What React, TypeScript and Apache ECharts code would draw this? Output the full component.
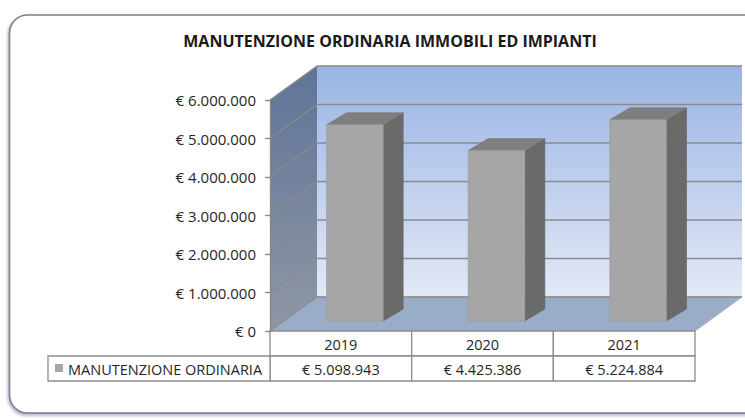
import React, { useEffect, useRef } from "react";
import * as echarts from "echarts";

const chartTitle = "MANUTENZIONE ORDINARIA IMMOBILI ED IMPIANTI";
const seriesName = "MANUTENZIONE ORDINARIA";
const categories = ["2019", "2020", "2021"];
const values = [5098943, 4425386, 5224884];
const yTickValues = [0, 1000000, 2000000, 3000000, 4000000, 5000000, 6000000];
const yMin = 0;
const yMax = 6000000;
const yInterval = 1000000;

const FONT = '"Open Sans", "Noto Sans", sans-serif';
const DEPTH_X = 47;
const DEPTH_Y = -34;
const BAR_OFF_X = 14;
const BAR_OFF_Y = -10;
const BAR_DX = 20;
const BAR_DY = -12;
const ROW_H = 25;
const LEGEND_W = 222;

function formatEuro(v: number): string {
  const s = String(Math.round(v)).replace(/\B(?=(\d{3})+(?!\d))/g, ".");
  return "€ " + s;
}

function textEl(text: string, x: number, y: number, align: string, extra: any = {}) {
  return {
    type: "text",
    style: {
      text,
      x,
      y,
      align,
      verticalAlign: "middle",
      textAlign: align,
      textVerticalAlign: "middle",
      fill: "#262626",
      font: `14.5px ${FONT}`,
      ...extra,
    },
  };
}

export default function App() {
  const ref = useRef<HTMLDivElement | null>(null);

  useEffect(() => {
    document.body.style.margin = "0";
    if (!ref.current) return;
    const chart = echarts.init(ref.current, undefined, { renderer: "svg" });

    const wallsRender = (params: any, api: any) => {
      const cs = params.coordSys;
      const L = cs.x;
      const R = cs.x + cs.width;
      const T = cs.y;
      const B = cs.y + cs.height;
      const children: any[] = [];
      children.push({
        type: "polygon",
        shape: {
          points: [
            [L, B],
            [L, T],
            [L + DEPTH_X, T + DEPTH_Y],
            [L + DEPTH_X, B + DEPTH_Y],
          ],
        },
        style: {
          fill: new echarts.graphic.LinearGradient(0, 0, 0, 1, [
            { offset: 0, color: "#5f7499" },
            { offset: 1, color: "#8f97a3" },
          ]),
          stroke: "none",
        },
      });
      children.push({
        type: "rect",
        shape: {
          x: L + DEPTH_X,
          y: T + DEPTH_Y,
          width: R - L,
          height: B - T,
        },
        style: {
          fill: new echarts.graphic.LinearGradient(0, 0, 0, 1, [
            { offset: 0, color: "#9ab4e4" },
            { offset: 1, color: "#e2e9f6" },
          ]),
          stroke: "none",
        },
      });
      children.push({
        type: "polygon",
        shape: {
          points: [
            [L, B],
            [R, B],
            [R + DEPTH_X, B + DEPTH_Y],
            [L + DEPTH_X, B + DEPTH_Y],
          ],
        },
        style: { fill: "#99adc8", stroke: "#a9b4c4", lineWidth: 1 },
      });
      yTickValues.forEach((v) => {
        const y = api.coord([0, v])[1];
        children.push({
          type: "line",
          shape: { x1: L + DEPTH_X, y1: y + DEPTH_Y, x2: R + DEPTH_X, y2: y + DEPTH_Y },
          style: { stroke: "#8a8a8a", lineWidth: 1.5 },
        });
        children.push({
          type: "line",
          shape: { x1: L, y1: y, x2: L + DEPTH_X, y2: y + DEPTH_Y },
          style: { stroke: "#8a8a8a", lineWidth: 1.2 },
        });
      });
      return { type: "group", children };
    };

    const barsRender = (params: any, api: any) => {
      const i = api.value(0);
      const v = api.value(1);
      const top = api.coord([i, v]);
      const base = api.coord([i, 0]);
      const band = api.size([1, 0])[0];
      const w = band * 0.4;
      const x0 = top[0] - w / 2 + BAR_OFF_X;
      const x1 = x0 + w;
      const yt = top[1] + BAR_OFF_Y;
      const yb = base[1] + BAR_OFF_Y;
      return {
        type: "group",
        children: [
          {
            type: "polygon",
            shape: {
              points: [
                [x1, yt],
                [x1 + BAR_DX, yt + BAR_DY],
                [x1 + BAR_DX, yb + BAR_DY],
                [x1, yb],
              ],
            },
            style: { fill: "#6a6a6a", stroke: "#626262", lineWidth: 0.6 },
          },
          {
            type: "polygon",
            shape: {
              points: [
                [x0, yt],
                [x1, yt],
                [x1 + BAR_DX, yt + BAR_DY],
                [x0 + BAR_DX, yt + BAR_DY],
              ],
            },
            style: { fill: "#7f7f7f", stroke: "#777777", lineWidth: 0.6 },
          },
          {
            type: "rect",
            shape: { x: x0, y: yt, width: w, height: yb - yt },
            style: { fill: "#a6a6a6", stroke: "#9a9a9a", lineWidth: 0.6 },
          },
        ],
      };
    };

    const tableRender = (params: any, api: any) => {
      const i = api.value(0);
      const v = api.value(1);
      const cs = params.coordSys;
      const B = cs.y + cs.height;
      const band = api.size([1, 0])[0];
      const cx = api.coord([i, 0])[0];
      const xl = cx - band / 2;
      const lineStyle = { fill: "#ffffff", stroke: "#8c8c8c", lineWidth: 1.3 };
      const children: any[] = [
        { type: "rect", shape: { x: xl, y: B, width: band, height: ROW_H }, style: lineStyle },
        { type: "rect", shape: { x: xl, y: B + ROW_H, width: band, height: ROW_H }, style: lineStyle },
        textEl(categories[i], cx, B + ROW_H / 2 + 1, "center"),
        textEl(formatEuro(v), cx, B + ROW_H * 1.5 + 1, "center"),
      ];
      if (params.dataIndex === 0) {
        const lx = cs.x - LEGEND_W;
        children.push({
          type: "rect",
          shape: { x: lx, y: B + ROW_H, width: LEGEND_W, height: ROW_H },
          style: lineStyle,
        });
        children.push({
          type: "rect",
          shape: { x: lx + 7, y: B + ROW_H + 8, width: 8, height: 8 },
          style: { fill: "#a6a6a6" },
        });
        children.push(textEl(seriesName, lx + 20, B + ROW_H * 1.5 + 1, "left"));
      }
      return { type: "group", children };
    };

    const option: any = {
      animation: false,
      backgroundColor: "#ffffff",
      title: {
        text: chartTitle,
        left: 385,
        top: 28,
        textAlign: "center",
        textStyle: {
          fontFamily: FONT,
          fontWeight: "bold",
          fontSize: 16,
          color: "#1a1a1a",
        },
      },
      graphic: [
        {
          type: "rect",
          z: -10,
          shape: { x: 9.5, y: 15, width: 800, height: 398, r: 18 },
          style: {
            fill: "#ffffff",
            stroke: "#7f7f7f",
            lineWidth: 1.6,
            shadowColor: "rgba(60,90,150,0.45)",
            shadowBlur: 3,
            shadowOffsetX: -1,
            shadowOffsetY: 2,
          },
        },
      ],
      grid: { left: 270, right: 50, top: 100, bottom: 88, containLabel: false },
      xAxis: {
        type: "category",
        data: categories,
        boundaryGap: true,
        axisLine: { show: false },
        axisTick: { show: false },
        axisLabel: { show: false },
        splitLine: { show: false },
      },
      yAxis: {
        type: "value",
        min: yMin,
        max: yMax,
        interval: yInterval,
        z: 10,
        axisLine: { show: true, lineStyle: { color: "#868686", width: 1.3 } },
        axisTick: { show: true, length: 5, lineStyle: { color: "#868686", width: 1.3 } },
        axisLabel: {
          margin: 14,
          formatter: (v: number) => formatEuro(v),
          color: "#262626",
          fontFamily: FONT,
          fontSize: 15,
        },
        splitLine: { show: false },
      },
      series: [
        {
          type: "custom",
          name: "walls",
          z: 1,
          silent: true,
          data: [[0, 0]],
          encode: { x: 0, y: 1 },
          renderItem: wallsRender,
        },
        {
          type: "custom",
          name: seriesName,
          z: 3,
          data: values.map((v, i) => [i, v]),
          encode: { x: 0, y: 1 },
          renderItem: barsRender,
        },
        {
          type: "custom",
          name: "table",
          z: 4,
          silent: true,
          data: values.map((v, i) => [i, v]),
          encode: { x: 0, y: 1 },
          renderItem: tableRender,
        },
      ],
    };

    chart.setOption(option);
    return () => chart.dispose();
  }, []);

  return <div ref={ref} style={{ width: 745, height: 419 }} />;
}
